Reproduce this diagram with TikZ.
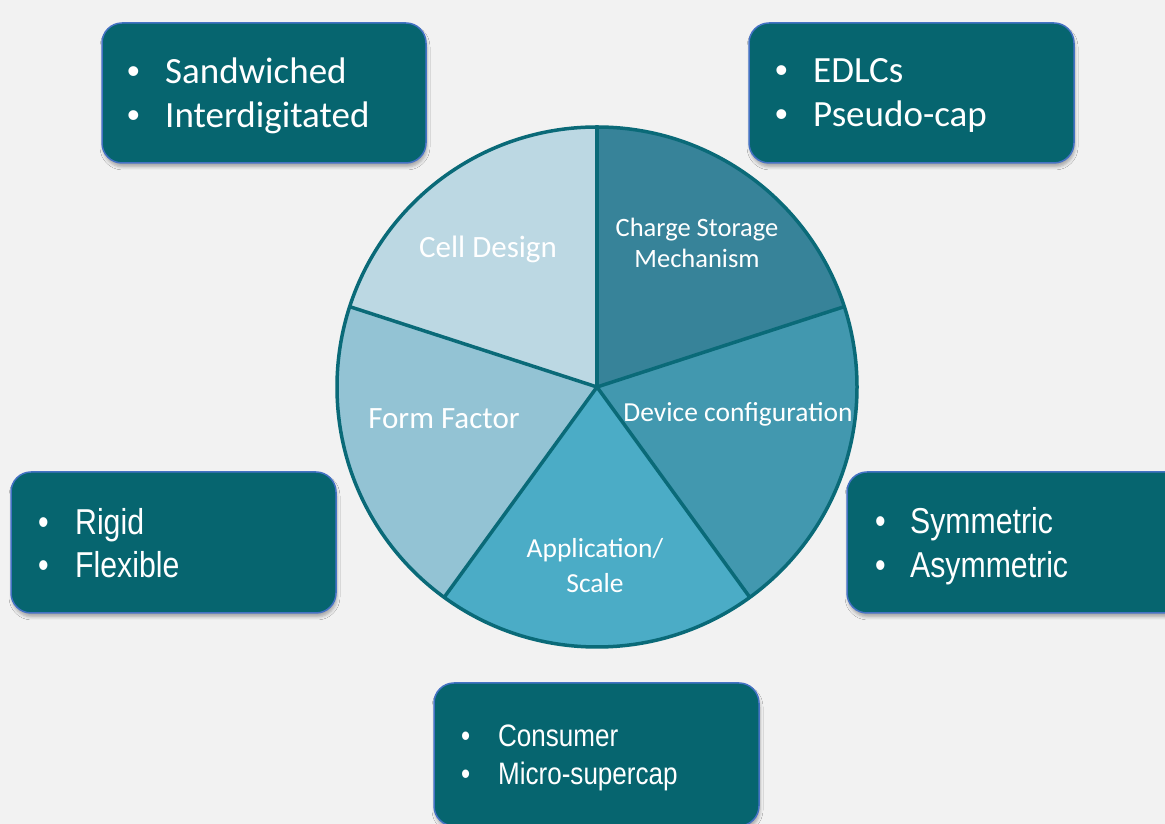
\documentclass[tikz,border=0pt]{standalone}
\usepackage{fontspec}
\setmainfont{Carlito}
\newfontfamily\narrowfont[FakeStretch=0.84]{Liberation Sans}
\newfontfamily\bulletfont{Liberation Sans}
\usetikzlibrary{shadows.blur}
\definecolor{bg}{HTML}{F2F2F2}
\definecolor{boxfill}{HTML}{06656F}
\definecolor{boxline}{HTML}{4472C4}
\definecolor{pieline}{HTML}{0A6A78}
\definecolor{cellc}{HTML}{BCD8E3}
\definecolor{chargec}{HTML}{378399}
\definecolor{devicec}{HTML}{4298AF}
\definecolor{appc}{HTML}{4BACC6}
\definecolor{formc}{HTML}{93C3D4}
\tikzset{
  infobox/.style={draw=boxline, line width=1.5pt, fill=boxfill, rounded corners=20pt,
    blur shadow={shadow xshift=1pt, shadow yshift=-4pt, shadow blur radius=3pt, shadow opacity=30}},
  caltext/.style={text=white, inner sep=0pt, anchor=base west, font=\fontsize{37}{44}\selectfont},
  arialtext/.style={text=white, inner sep=0pt, anchor=base west, font=\narrowfont\fontsize{36}{43}\selectfont},
  smalltext/.style={text=white, inner sep=0pt, anchor=base west, font=\narrowfont\fontsize{31}{37}\selectfont},
  pielabel/.style={text=white, inner sep=0pt, anchor=base},
  sep/.style={draw=pieline, line width=3.5pt}
}
\newcommand{\calbul}{\makebox[38pt][l]{\bulletfont\fontsize{36}{44}\selectfont •}}
\begin{document}
\begin{tikzpicture}[x=1pt,y=1pt]
\path[use as bounding box, fill=bg] (0,0) rectangle (1165,824);
\clip (0,0) rectangle (1165,824);

% pie
\coordinate (c) at (597,437);
\fill[cellc]   (c) -- ++(90:260)  arc[start angle=90,  end angle=162, radius=260] -- cycle;
\fill[formc]   (c) -- ++(162:260) arc[start angle=162, end angle=234, radius=260] -- cycle;
\fill[appc]    (c) -- ++(234:260) arc[start angle=234, end angle=306, radius=260] -- cycle;
\fill[devicec] (c) -- ++(306:260) arc[start angle=306, end angle=378, radius=260] -- cycle;
\fill[chargec] (c) -- ++(18:260)  arc[start angle=18,  end angle=90,  radius=260] -- cycle;
\draw[sep] (c) -- ++(90:260);
\draw[sep] (c) -- ++(162:260);
\draw[sep] (c) -- ++(234:260);
\draw[sep] (c) -- ++(306:260);
\draw[sep] (c) -- ++(18:260);
\draw[sep] (c) circle[radius=260];

% pie labels
\node[pielabel, font=\fontsize{31}{36}\selectfont] (lcell) at (488,566) {Cell Design};
\node[pielabel, font=\fontsize{26.5}{31}\selectfont] (lcharge1) at (697,587) {Charge Storage};
\node[pielabel, font=\fontsize{26.5}{31}\selectfont] (lcharge2) at (697,556) {Mechanism};
\node[pielabel, font=\fontsize{31}{36}\selectfont] (lform) at (444,395) {Form Factor};
\node[pielabel, font=\fontsize{27.5}{33}\selectfont] (ldevice) at (738,402) {Device configuration};
\node[pielabel, font=\fontsize{27.5}{33}\selectfont] (lapp1) at (595,266) {Application/};
\node[pielabel, font=\fontsize{27.5}{33}\selectfont] (lapp2) at (595,231) {Scale};

% boxes
\path[infobox] (102,661) rectangle (426,801) node[inner sep=0pt] (box1) {};
\path[infobox] (749,661) rectangle (1074,801) node[inner sep=0pt] (box2) {};
\path[infobox] (11,211) rectangle (336,352) node[inner sep=0pt] (box3) {};
\path[infobox] (847,211) rectangle (1185,352) node[inner sep=0pt] (box4) {};
\path[infobox] (434,-2) rectangle (759,141) node[inner sep=0pt] (box5) {};

% box texts
\node[caltext] (t1a) at (127,740) {\calbul Sandwiched};
\node[caltext] (t1b) at (127,696) {\calbul Interdigitated};
\node[caltext] (t2a) at (775,741) {\calbul EDLCs};
\node[caltext] (t2b) at (775,697) {\calbul Pseudo-cap};
\node[arialtext] (t3a) at (38,289) {\makebox[37pt][l]{•}Rigid};
\node[arialtext] (t3b) at (38,246) {\makebox[37pt][l]{•}Flexible};
\node[arialtext] (t4a) at (875,290) {\makebox[35pt][l]{•}Symmetric};
\node[arialtext] (t4b) at (875,246) {\makebox[35pt][l]{•}Asymmetric};
\node[smalltext] (t5a) at (461,77) {\makebox[37pt][l]{•}Consumer};
\node[smalltext] (t5b) at (461,39) {\makebox[37pt][l]{•}Micro-supercap};
\end{tikzpicture}
\end{document}
